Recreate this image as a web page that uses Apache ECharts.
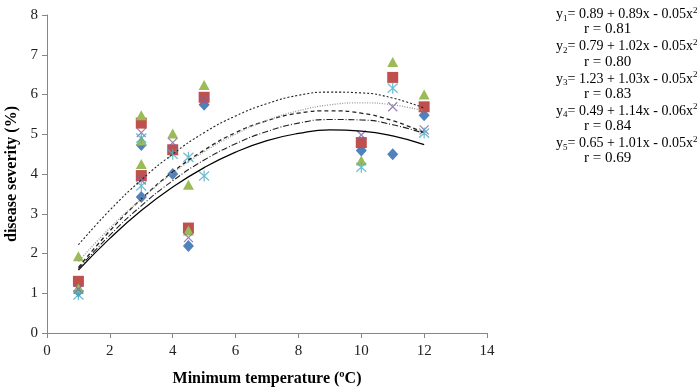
<!DOCTYPE html>
<html>
<head>
<meta charset="utf-8">
<script src="https://cdn.jsdelivr.net/npm/echarts@6/dist/echarts.min.js"></script>
<style>
  html, body { margin: 0; padding: 0; background: #fff; }
  #chart { width: 700px; height: 389px; }
</style>
</head>
<body>
<div id="chart"></div>
<script>
// observed points, [temperature, severity]
const blueDiamonds = [[1, 1.05], [3, 4.73], [3, 3.42], [4, 4.00], [4.5, 2.19], [5, 5.74], [10, 4.59], [11, 4.50], [12, 5.48]];
const redSquares = [[1, 1.30], [3, 5.28], [3, 3.96], [4, 4.61], [4.5, 2.64], [5, 5.93], [10, 4.79], [11, 6.43], [12, 5.69]];
const greenTriangles = [[1, 1.93], [1, 1.12], [3, 5.48], [3, 4.84], [3, 4.25], [4, 5.02], [4.5, 3.73], [4.5, 2.58], [5, 6.24], [10, 4.34], [11, 6.82], [12, 6.00]];
const purpleCrosses = [[1, 1.10], [3, 5.04], [3, 3.85], [4, 4.79], [4.5, 2.40], [5, 5.85], [10, 4.98], [11, 5.69], [12, 5.11]];
const cyanStars = [[1, 0.96], [3, 4.90], [3, 3.70], [4, 4.50], [4.5, 4.42], [5, 3.95], [10, 4.17], [11, 6.16], [12, 5.03]];

// fitted curves
const curveX = [1, 2, 3, 4, 5, 6, 7, 8, 9, 10, 11, 12];
const fitSolid = [1.58, 2.38, 3.08, 3.67, 4.16, 4.55, 4.84, 5.02, 5.11, 5.08, 4.96, 4.74];
const fitDashDot = [1.62, 2.46, 3.20, 3.83, 4.35, 4.76, 5.07, 5.28, 5.37, 5.36, 5.24, 5.02];
const fitDashed = [1.65, 2.57, 3.37, 4.05, 4.60, 5.04, 5.34, 5.53, 5.59, 5.53, 5.34, 5.04];
const fitDotted = [1.80, 2.64, 3.37, 4.02, 4.56, 5.00, 5.35, 5.59, 5.74, 5.79, 5.74, 5.59];
const fitFineDash = [2.22, 3.09, 3.85, 4.50, 5.04, 5.46, 5.77, 5.98, 6.06, 6.04, 5.91, 5.66];

// equation labels
const eqIndex = ['1', '2', '3', '4', '5'];
const eqBody = ['0.89 + 0.89x - 0.05x', '0.79 + 1.02x - 0.05x', '1.23 + 1.03x - 0.05x', '0.49 + 1.14x - 0.06x', '0.65 + 1.01x - 0.05x'];
const eqR = ['r = 0.81', 'r = 0.80', 'r = 0.83', 'r = 0.84', 'r = 0.69'];

const xTicks = { min: 0, max: 14, interval: 2 };
const yTicks = { min: 0, max: 8, interval: 1 };

const serif = 'Liberation Serif';

function pair(xs, ys) {
    return xs.map(function (x, i) { return [x, ys[i]]; });
}

function scatter(name, data, symbol, size, color, stroked) {
    return {
        name: name,
        type: 'scatter',
        data: data,
        symbol: symbol,
        symbolSize: size,
        itemStyle: stroked
            ? { color: 'rgba(0,0,0,0)', borderColor: color, borderWidth: 1.3 }
            : { color: color, opacity: 1 },
        z: 2
    };
}

function fit(name, ys, color, type, width) {
    return {
        name: name,
        type: 'line',
        data: pair(curveX, ys),
        smooth: true,
        showSymbol: false,
        silent: true,
        lineStyle: { color: color, width: width, type: type },
        z: 3
    };
}

let chart = echarts.init(document.getElementById('chart'));

// equation block on the right
const graphics = [];
eqBody.forEach(function (body, i) {
    graphics.push({
        type: 'text',
        left: 556,
        top: 6 + i * 32.2,
        style: {
            text: '{m|y}{sub|' + eqIndex[i] + '}{m|= ' + body + '}{sup|2}',
            rich: {
                m: { fontFamily: serif, fontSize: 14, fill: '#000' },
                sub: { fontFamily: serif, fontSize: 9, fill: '#000', padding: [8, 0, 0, 0] },
                sup: { fontFamily: serif, fontSize: 9, fill: '#000', padding: [0, 0, 8, 0] }
            }
        }
    });
    graphics.push({
        type: 'text',
        left: 584,
        top: 22 + i * 32.2,
        style: { text: eqR[i], fontFamily: serif, fontSize: 15, fill: '#000' }
    });
});

const option = {
    animation: false,
    backgroundColor: '#fff',
    grid: { left: 47, top: 15, width: 440, height: 318, outerBoundsMode: 'none', containLabel: false },
    xAxis: {
        type: 'value',
        min: xTicks.min, max: xTicks.max, interval: xTicks.interval,
        name: 'Minimum temperature (ºC)',
        nameLocation: 'middle',
        nameGap: 38,
        nameTextStyle: { fontFamily: serif, fontSize: 16, fontWeight: 'bold', color: '#000' },
        axisLine: { lineStyle: { color: '#868686' } },
        axisTick: { show: true, length: 5, lineStyle: { color: '#868686' } },
        axisLabel: { fontFamily: serif, fontSize: 15, color: '#222', margin: 11 },
        splitLine: { show: false }
    },
    yAxis: {
        type: 'value',
        min: yTicks.min, max: yTicks.max, interval: yTicks.interval,
        name: 'disease severity (%)',
        nameLocation: 'middle',
        nameGap: 23,
        nameTextStyle: { fontFamily: serif, fontSize: 16, fontWeight: 'bold', color: '#000' },
        axisLine: { show: true, lineStyle: { color: '#868686' } },
        axisTick: { show: true, length: 5, lineStyle: { color: '#868686' } },
        axisLabel: { fontFamily: serif, fontSize: 15, color: '#222', margin: 9 },
        splitLine: { show: false }
    },
    graphic: graphics,
    series: [
        scatter('s1', blueDiamonds, 'diamond', [11, 12], '#4F81BD', false),
        scatter('s2', redSquares, 'rect', [11, 11], '#C0504D', false),
        scatter('s3', greenTriangles, 'triangle', [11, 10], '#9BBB59', false),
        scatter('s4', purpleCrosses, 'path://M0,0L10,10M10,0L0,10', [9, 9], '#8064A2', true),
        scatter('s5', cyanStars, 'path://M0,0L10,10M10,0L0,10M5,-1L5,11', [10, 11], '#4BACC6', true),
        fit('f1', fitSolid, '#000', 'solid', 1.2),
        fit('f2', fitDashDot, '#222', [6, 2, 1, 2], 1.1),
        fit('f3', fitDashed, '#222', [4, 3], 1.3),
        fit('f4', fitDotted, '#999', [1, 1.5], 1.3),
        fit('f5', fitFineDash, '#222', [2, 2], 1.1)
    ]
};

chart.setOption(option);
</script>
</body>
</html>
